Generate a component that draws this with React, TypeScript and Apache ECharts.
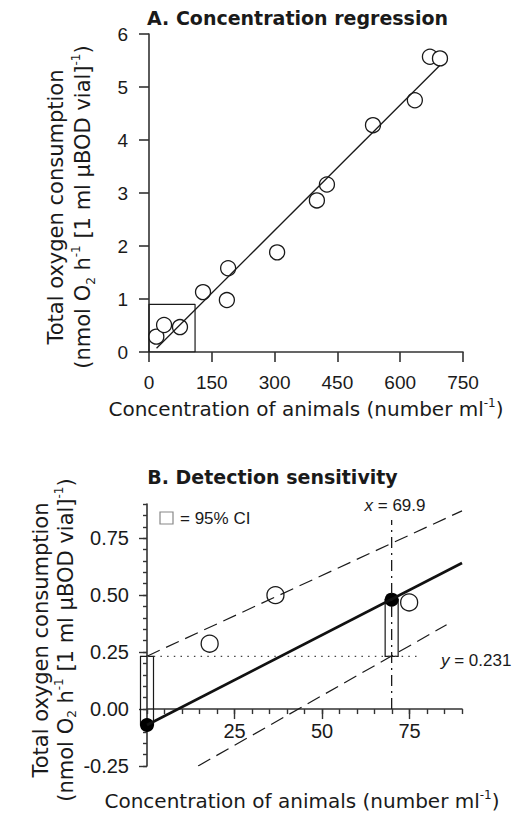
import React, { useEffect, useRef } from "react";
import * as echarts from "echarts";

// ---------- Panel A data ----------
const A_X_TICK_INTERVAL = 150;
const A_X_MAX = 750;
const A_Y_MAX = 6;
const A_POINTS_X = [17.5, 36, 74, 129, 186, 189, 306, 401, 425, 535, 635, 671, 695];
const A_POINTS_Y = [0.29, 0.51, 0.47, 1.13, 0.98, 1.58, 1.88, 2.86, 3.16, 4.28, 4.75, 5.57, 5.54];
const A_REG_X = [18, 695];
const A_REG_Y = [0.07, 5.41];
const A_BOX_X = [0, 110];
const A_BOX_Y = [0, 0.9];

// ---------- Panel B data ----------
const B_X_MAX = 90;
const B_Y_MIN = -0.25;
const B_Y_MAX = 0.9;
const B_X_LABELS = [25, 50, 75];
const B_X_MINOR = [0, 5, 10, 15, 20, 25, 30, 35, 40, 45, 50, 55, 60, 65, 70, 75, 80, 85, 90];
const B_Y_LABELS = [-0.25, 0, 0.25, 0.5, 0.75];
const B_Y_MINOR = [-0.25, -0.2, -0.15, -0.1, -0.05, 0, 0.05, 0.1, 0.15, 0.2, 0.25, 0.3, 0.35, 0.4, 0.45, 0.5, 0.55, 0.6, 0.65, 0.7, 0.75, 0.8, 0.85, 0.9];
const B_POINTS_X = [17.9, 36.7, 74.9];
const B_POINTS_Y = [0.287, 0.5, 0.468];
const B_REG_X = [0, 90];
const B_REG_Y = [-0.07, 0.641];
const CI_UPPER_X = [0, 90];
const CI_UPPER_Y = [0.232, 0.87];
const CI_LOWER_X = [14.6, 85.6];
const CI_LOWER_Y = [-0.25, 0.37];
const DETECT_X = 69.9;
const DETECT_Y = 0.231;
const DETECT_LINE_END_X = 78;
const DETECT_VLINE_TOP = 0.83;
const FILLED_X = [0, 69.9];
const FILLED_Y = [-0.07, 0.48];
const CI_BAR_X = [0, 69.9];
const CI_BAR_LOW = [-0.07, 0.231];
const CI_BAR_HIGH = [0.231, 0.48];

const INK = "#1a1a1a";
const AXIS = "#333";
const NUM_FONT = "'Liberation Sans', Arial, Helvetica, sans-serif";
const TXT_FONT = "'DejaVu Sans', 'Liberation Sans', Arial, sans-serif";

const GRID_B_HEIGHT = 262;

const zip = (xs: number[], ys: number[]) => xs.map((x, i) => [x, ys[i]]);

export default function App() {
  const ref = useRef<HTMLDivElement>(null);
  useEffect(() => {
    if (!ref.current) return;
    const chart = echarts.init(ref.current, undefined, { renderer: "svg" });

    // x axis of panel B crosses at y = 0
    const bXOffset = -((0 - B_Y_MIN) / (B_Y_MAX - B_Y_MIN)) * GRID_B_HEIGHT;

    const axisLine = { show: true, onZero: false, lineStyle: { color: AXIS, width: 1.6 } };
    const supRich = {
      sup: { fontSize: 12, verticalAlign: "top", fontFamily: TXT_FONT, fill: INK },
      sub: { fontSize: 12, verticalAlign: "bottom", fontFamily: TXT_FONT, fill: INK },
      i: { fontStyle: "italic", fontFamily: NUM_FONT, fontSize: 17, fill: INK },
    };
    const yTitle = "Total oxygen consumption\n(nmol O{sub|2} h{sup|-1} [1 ml µBOD vial]{sup|-1})";
    const xTitle = "Concentration of animals (number ml{sup|-1})";

    const option: any = {
      animation: false,
      grid: [
        { left: 149, top: 34, width: 314, height: 318 },
        { left: 147, top: 504, width: 315, height: GRID_B_HEIGHT },
      ],
      xAxis: [
        {
          gridIndex: 0, type: "value", position: "bottom", min: 0, max: A_X_MAX, interval: A_X_TICK_INTERVAL,
          axisLine, splitLine: { show: false },
          axisTick: { show: true, length: 10, lineStyle: { color: AXIS, width: 1.6 } },
          axisLabel: { fontSize: 19, margin: 21, color: INK, fontFamily: NUM_FONT },
        },
        {
          gridIndex: 1, type: "value", position: "bottom", offset: bXOffset, min: 0, max: B_X_MAX,
          axisLine: { show: true, onZero: false, lineStyle: { color: AXIS, width: 1.6 } },
          splitLine: { show: false },
          axisTick: { show: true, length: 5, customValues: B_X_MINOR, lineStyle: { color: AXIS, width: 1.4 } },
          axisLabel: { show: false },
        },
        {
          gridIndex: 1, type: "value", position: "bottom", offset: bXOffset, min: 0, max: B_X_MAX,
          axisLine: { show: false, onZero: false },
          splitLine: { show: false },
          axisTick: { show: true, length: 10, customValues: B_X_LABELS, lineStyle: { color: AXIS, width: 1.4 } },
          axisLabel: { show: true, customValues: B_X_LABELS, fontSize: 20, margin: 12, color: INK, fontFamily: NUM_FONT },
        },
      ],
      yAxis: [
        {
          gridIndex: 0, type: "value", position: "left", min: 0, max: A_Y_MAX, interval: 1,
          axisLine, splitLine: { show: false },
          axisTick: { show: true, length: 10, lineStyle: { color: AXIS, width: 1.6 } },
          axisLabel: { fontSize: 19, margin: 21, color: INK, fontFamily: NUM_FONT },
        },
        {
          gridIndex: 1, type: "value", position: "left", min: B_Y_MIN, max: B_Y_MAX,
          axisLine, splitLine: { show: false },
          axisTick: { show: true, length: 4, customValues: B_Y_MINOR, lineStyle: { color: AXIS, width: 1.4 } },
          axisLabel: { show: false },
        },
        {
          gridIndex: 1, type: "value", position: "left", min: B_Y_MIN, max: B_Y_MAX,
          axisLine: { show: false, onZero: false }, splitLine: { show: false },
          axisTick: { show: true, length: 8, customValues: B_Y_LABELS, lineStyle: { color: AXIS, width: 1.4 } },
          axisLabel: {
            show: true, customValues: B_Y_LABELS, fontSize: 20, margin: 18, color: INK, fontFamily: NUM_FONT,
            formatter: (v: number) => v.toFixed(2),
          },
        },
      ],
      series: [
        // Panel A
        {
          type: "line", xAxisIndex: 0, yAxisIndex: 0, symbol: "none", silent: true,
          data: [
            [A_BOX_X[0], A_BOX_Y[0]], [A_BOX_X[1], A_BOX_Y[0]], [A_BOX_X[1], A_BOX_Y[1]],
            [A_BOX_X[0], A_BOX_Y[1]], [A_BOX_X[0], A_BOX_Y[0]],
          ],
          lineStyle: { color: INK, width: 1.2 },
        },
        {
          type: "line", xAxisIndex: 0, yAxisIndex: 0, symbol: "none", silent: true,
          data: zip(A_REG_X, A_REG_Y), lineStyle: { color: INK, width: 1.3 },
        },
        {
          type: "scatter", xAxisIndex: 0, yAxisIndex: 0, symbol: "circle", symbolSize: 15, clip: false,
          data: zip(A_POINTS_X, A_POINTS_Y),
          itemStyle: { color: "#fff", borderColor: INK, borderWidth: 1.3, opacity: 1 },
        },
        // Panel B
        {
          type: "line", xAxisIndex: 1, yAxisIndex: 1, symbol: "none", silent: true,
          data: zip(CI_UPPER_X, CI_UPPER_Y), lineStyle: { color: INK, width: 1.2, type: [14, 7] },
        },
        {
          type: "line", xAxisIndex: 1, yAxisIndex: 1, symbol: "none", silent: true,
          data: zip(CI_LOWER_X, CI_LOWER_Y), lineStyle: { color: INK, width: 1.2, type: [14, 7] },
        },
        {
          type: "line", xAxisIndex: 1, yAxisIndex: 1, symbol: "none", silent: true,
          data: [[0, DETECT_Y], [DETECT_LINE_END_X, DETECT_Y]],
          lineStyle: { color: "#444", width: 1.4, type: [1.5, 5.2] },
        },
        {
          type: "line", xAxisIndex: 1, yAxisIndex: 1, symbol: "none", silent: true,
          data: [[DETECT_X, 0], [DETECT_X, DETECT_VLINE_TOP]],
          lineStyle: { color: INK, width: 1.3, type: [11, 5, 2, 5] },
        },
        {
          type: "custom", xAxisIndex: 1, yAxisIndex: 1, clip: false, silent: true,
          data: CI_BAR_X.map((x, i) => [x, CI_BAR_LOW[i], CI_BAR_HIGH[i]]),
          encode: { x: 0, y: [1, 2] },
          renderItem: (params: any, api: any) => {
            const x = api.value(0);
            const pLo = api.coord([x, api.value(1)]);
            const pHi = api.coord([x, api.value(2)]);
            const w = 13;
            return {
              type: "rect",
              shape: { x: pHi[0] - w / 2, y: pHi[1], width: w, height: pLo[1] - pHi[1] },
              style: { fill: "none", stroke: INK, lineWidth: 1.2 },
            };
          },
        },
        {
          type: "line", xAxisIndex: 1, yAxisIndex: 1, symbol: "none", silent: true,
          data: zip(B_REG_X, B_REG_Y), lineStyle: { color: "#111", width: 2.6 },
        },
        {
          type: "scatter", xAxisIndex: 1, yAxisIndex: 1, symbol: "circle", symbolSize: 17, clip: false,
          data: zip(B_POINTS_X, B_POINTS_Y),
          itemStyle: { color: "#fff", borderColor: INK, borderWidth: 1.3, opacity: 1 },
        },
        {
          type: "scatter", xAxisIndex: 1, yAxisIndex: 1, symbol: "circle", symbolSize: 14, clip: false,
          data: zip(FILLED_X, FILLED_Y),
          itemStyle: { color: "#000", opacity: 1 },
        },
      ],
      graphic: [
        {
          type: "text", x: 297.5, y: 18,
          style: {
            text: "A. Concentration regression", fontFamily: TXT_FONT, fontWeight: "bold", fontSize: 19,
            fill: INK, align: "center", verticalAlign: "middle", textAlign: "center", textVerticalAlign: "middle",
          },
        },
        {
          type: "text", x: 272.5, y: 477,
          style: {
            text: "B. Detection sensitivity", fontFamily: TXT_FONT, fontWeight: "bold", fontSize: 19,
            fill: INK, align: "center", verticalAlign: "middle", textAlign: "center", textVerticalAlign: "middle",
          },
        },
        {
          type: "text", x: 69.5, y: 207, rotation: Math.PI / 2,
          style: {
            text: yTitle, fontFamily: TXT_FONT, fontSize: 21, lineHeight: 27, fill: INK,
            align: "center", verticalAlign: "middle", textAlign: "center", textVerticalAlign: "middle",
            rich: supRich,
          },
        },
        {
          type: "text", x: 53, y: 640, rotation: Math.PI / 2,
          style: {
            text: yTitle, fontFamily: TXT_FONT, fontSize: 21, lineHeight: 25, fill: INK,
            align: "center", verticalAlign: "middle", textAlign: "center", textVerticalAlign: "middle",
            rich: supRich,
          },
        },
        {
          type: "text", x: 306, y: 409,
          style: {
            text: xTitle, fontFamily: TXT_FONT, fontSize: 20, lineHeight: 24, fill: INK,
            align: "center", verticalAlign: "middle", textAlign: "center", textVerticalAlign: "middle",
            rich: supRich,
          },
        },
        {
          type: "text", x: 302, y: 801,
          style: {
            text: xTitle, fontFamily: TXT_FONT, fontSize: 20, lineHeight: 24, fill: INK,
            align: "center", verticalAlign: "middle", textAlign: "center", textVerticalAlign: "middle",
            rich: supRich,
          },
        },
        {
          type: "rect", shape: { x: 160, y: 512, width: 13, height: 12 },
          style: { fill: "none", stroke: "#888", lineWidth: 1.2 },
        },
        {
          type: "text", x: 180, y: 518,
          style: {
            text: "= 95% CI", fontFamily: NUM_FONT, fontSize: 17, fill: INK,
            align: "left", verticalAlign: "middle", textAlign: "left", textVerticalAlign: "middle",
          },
        },
        {
          type: "text", x: 395, y: 505,
          style: {
            text: "{i|x} = 69.9", fontFamily: NUM_FONT, fontSize: 17, fill: INK,
            align: "center", verticalAlign: "middle", textAlign: "center", textVerticalAlign: "middle",
            rich: supRich,
          },
        },
        {
          type: "text", x: 441, y: 660,
          style: {
            text: "{i|y} = 0.231", fontFamily: NUM_FONT, fontSize: 17, fill: INK,
            align: "left", verticalAlign: "middle", textAlign: "left", textVerticalAlign: "middle",
            rich: supRich,
          },
        },
      ],
    };
    chart.setOption(option);
    return () => chart.dispose();
  }, []);

  return (
    <div
      ref={ref}
      style={{ position: "absolute", left: 0, top: 0, width: 512, height: 813, background: "#fff" }}
    />
  );
}
